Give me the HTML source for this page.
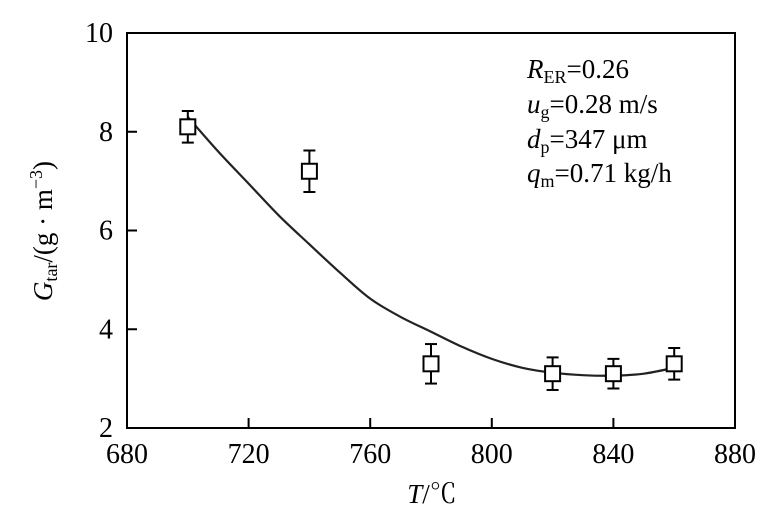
<!DOCTYPE html>
<html><head><meta charset="utf-8"><style>
body{margin:0;background:#fff;}
svg text{font-family:"Liberation Serif","Noto Serif CJK SC",serif;fill:#000;}
</style></head><body>
<svg width="775" height="520" viewBox="0 0 775 520">
<g id="axes"></g>
<g id="marks"></g>
<text x="527" y="78" font-size="27"><tspan font-style="italic">R</tspan><tspan font-size="18" dy="5">ER</tspan><tspan dy="-5">=0.26</tspan></text>
<text x="527" y="113" font-size="27"><tspan font-style="italic">u</tspan><tspan font-size="18" dy="5">g</tspan><tspan dy="-5">=0.28 m/s</tspan></text>
<text x="527" y="148" font-size="27"><tspan font-style="italic">d</tspan><tspan font-size="18" dy="5">p</tspan><tspan dy="-5">=347 μm</tspan></text>
<text x="527" y="182" font-size="27"><tspan font-style="italic">q</tspan><tspan font-size="18" dy="5">m</tspan><tspan dy="-5">=0.71 kg/h</tspan></text>
<text x="432" y="503" font-size="27" text-anchor="middle"><tspan font-style="italic">T</tspan>/℃</text>
<text transform="translate(52,231) rotate(-90)" font-size="27" text-anchor="middle"><tspan font-style="italic">G</tspan><tspan font-size="18" dy="5">tar</tspan><tspan dy="-5">/(g · m</tspan><tspan font-size="18" dy="-10">−3</tspan><tspan dy="10">)</tspan></text>
</svg>
<script>
const xTicks=[680,720,760,800,840,880];
const yTicks=[2,4,6,8,10];
const temps=[700,740,780,820,840,860];
const tarValues=[8.1,7.2,3.3,3.1,3.1,3.3];
const tarErrors=[0.32,0.42,0.4,0.33,0.3,0.32];
const fitTemps=[700,710,720,730,740,750,760,770,780,790,800,810,820,830,840,850,860];
const fitValues=[8.3,7.6,6.95,6.3,5.72,5.15,4.62,4.25,3.95,3.65,3.4,3.22,3.12,3.07,3.06,3.1,3.22];
const X0=127,X1=735,Y0=428,Y1=33;
const sx=v=>X0+(v-680)/(880-680)*(X1-X0);
const sy=v=>Y0-(v-2)/(10-2)*(Y0-Y1);
const NS='http://www.w3.org/2000/svg';
function mk(tag,attrs,parent){const e=document.createElementNS(NS,tag);for(const k in attrs)e.setAttribute(k,attrs[k]);parent.appendChild(e);return e;}
const axes=document.getElementById('axes'),marks=document.getElementById('marks');
const frame=mk('rect',{x:X0,y:Y1,width:X1-X0,height:Y0-Y1,fill:'none',stroke:'#000','stroke-width':2},axes);


xTicks.forEach(t=>{
  const l=mk('line',{x1:sx(t),x2:sx(t),y1:Y0,y2:Y0-10,stroke:'#000','stroke-width':2},axes);
  
  
  const tx=mk('text',{x:sx(t),y:Y0+35,'font-size':28,'text-anchor':'middle'},axes);
  tx.textContent=t;
  
  
});
yTicks.forEach(t=>{
  const l=mk('line',{x1:X0,x2:X0+10,y1:sy(t),y2:sy(t),stroke:'#000','stroke-width':2},axes);
  
  
  const tx=mk('text',{x:X0-14,y:sy(t)+9,'font-size':28,'text-anchor':'end'},axes);
  tx.textContent=t;
  
  
});
const P=fitTemps.map((t,i)=>[sx(t),sy(fitValues[i])]);
let d='M'+P[0][0]+','+P[0][1];
for(let i=0;i<P.length-1;i++){
  const p0=P[i-1]||P[i],p1=P[i],p2=P[i+1],p3=P[i+2]||P[i+1];
  d+=' C'+(p1[0]+(p2[0]-p0[0])/6)+','+(p1[1]+(p2[1]-p0[1])/6)+' '+(p2[0]-(p3[0]-p1[0])/6)+','+(p2[1]-(p3[1]-p1[1])/6)+' '+p2[0]+','+p2[1];
}
const curve=mk('path',{d:d,fill:'none',stroke:'#222','stroke-width':2.2},marks);


temps.forEach((t,i)=>{
  const x=sx(t),y=sy(tarValues[i]),yt=sy(tarValues[i]+tarErrors[i]),yb=sy(tarValues[i]-tarErrors[i]);
  const g=mk('g',{},marks);
  
  
  mk('line',{x1:x,x2:x,y1:yt,y2:yb,stroke:'#000','stroke-width':2},g);
  mk('line',{x1:x-6,x2:x+6,y1:yt,y2:yt,stroke:'#000','stroke-width':2},g);
  mk('line',{x1:x-6,x2:x+6,y1:yb,y2:yb,stroke:'#000','stroke-width':2},g);
  mk('rect',{x:x-7.5,y:y-7.5,width:15,height:15,fill:'#fff',stroke:'#000','stroke-width':2},g);
});
</script>
</body></html>
